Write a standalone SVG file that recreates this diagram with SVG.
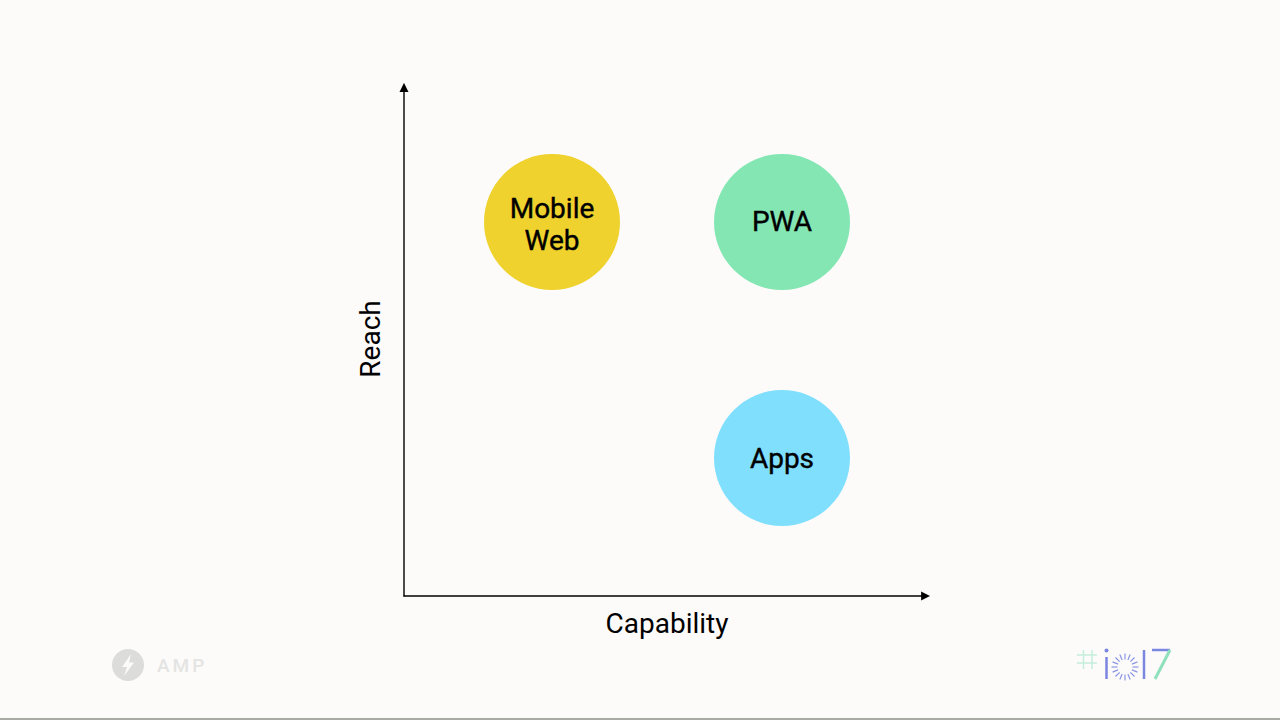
<svg xmlns="http://www.w3.org/2000/svg" width="1280" height="720" viewBox="0 0 1280 720">
<style>
.t{font-family:Roboto,"Liberation Sans",sans-serif;font-size:28px;fill:#000;text-anchor:middle}
.n{stroke:#000;stroke-width:.4}
.ax{stroke:#000;stroke-width:1.4;fill:none}
.hash{stroke:#c4eedb;stroke-width:1.5;fill:none}
.blue{stroke:#7b86e0;stroke-width:2.5;fill:none}
.ray{stroke:#8d96e4;stroke-width:1.2;fill:none}
</style>
<defs>
<marker id="arr" viewBox="0 0 10 10" refX="1" refY="5" markerWidth="9" markerHeight="10" markerUnits="userSpaceOnUse" orient="auto"><path d="M0 0L10 5L0 10Z" fill="#000"/></marker>
<path id="r" class="ray" d="M1125 659.500V653.500"/>
</defs>
<rect width="1280" height="720" fill="#fcfbfa"/>
<rect y="718" width="1280" height="2" fill="#a9a9a5"/>
<g id="connectors">
<path class="ax" d="M404 596.500V91" marker-end="url(#arr)"/>
<path class="ax" d="M403.500 596H922" marker-end="url(#arr)"/>
</g>
<g id="mobile-web"><circle cx="552" cy="222" r="68" fill="#efd22d"/><text class="t n" x="552" y="218">Mobile</text><text class="t n" x="552" y="250">Web</text></g>
<g id="pwa"><circle cx="782" cy="222" r="68" fill="#83e6b3"/><text class="t n" x="782" y="231">PWA</text></g>
<g id="apps"><circle cx="782" cy="458" r="68" fill="#7fdffd"/><text class="t n" x="782" y="468">Apps</text></g>
<g id="axis-x-label"><text class="t" x="667" y="633">Capability</text></g>
<g id="axis-y-label"><text class="t" transform="translate(380 339) rotate(-90)">Reach</text></g>
<g id="amp-logo">
<circle cx="128" cy="665" r="16" fill="#dcdcda"/>
<path d="M131 654L122 667H127L124 676L134 662.500H129Z" fill="#fcfbfa"/>
<text x="157" y="671.500" font-family="Roboto,'Liberation Sans',sans-serif" font-size="19" font-weight="500" letter-spacing="3" fill="#e4e4e2">AMP</text>
</g>
<g id="io-logo">
<path class="hash" d="M1083.500 650V669M1092 650V669M1077 655H1097M1077 663H1097"/>
<circle cx="1106.500" cy="650.500" r="2" fill="#7b86e0"/>
<path class="blue" d="M1106.500 657V679M1144 650V679"/>
<path d="M1152 650H1170" stroke="#7b86e0" stroke-width="2.500" fill="none"/>
<path d="M1170 650L1155 679" stroke="#8fe0bc" stroke-width="3" fill="none"/>
<use href="#r"/><use href="#r" transform="rotate(22.500 1125 667)"/><use href="#r" transform="rotate(45 1125 667)"/><use href="#r" transform="rotate(67.500 1125 667)"/><use href="#r" transform="rotate(90 1125 667)"/><use href="#r" transform="rotate(112.500 1125 667)"/><use href="#r" transform="rotate(135 1125 667)"/><use href="#r" transform="rotate(157.500 1125 667)"/><use href="#r" transform="rotate(180 1125 667)"/><use href="#r" transform="rotate(202.500 1125 667)"/><use href="#r" transform="rotate(225 1125 667)"/><use href="#r" transform="rotate(247.500 1125 667)"/><use href="#r" transform="rotate(270 1125 667)"/><use href="#r" transform="rotate(292.500 1125 667)"/><use href="#r" transform="rotate(315 1125 667)"/><use href="#r" transform="rotate(337.500 1125 667)"/>
</g>
</svg>
